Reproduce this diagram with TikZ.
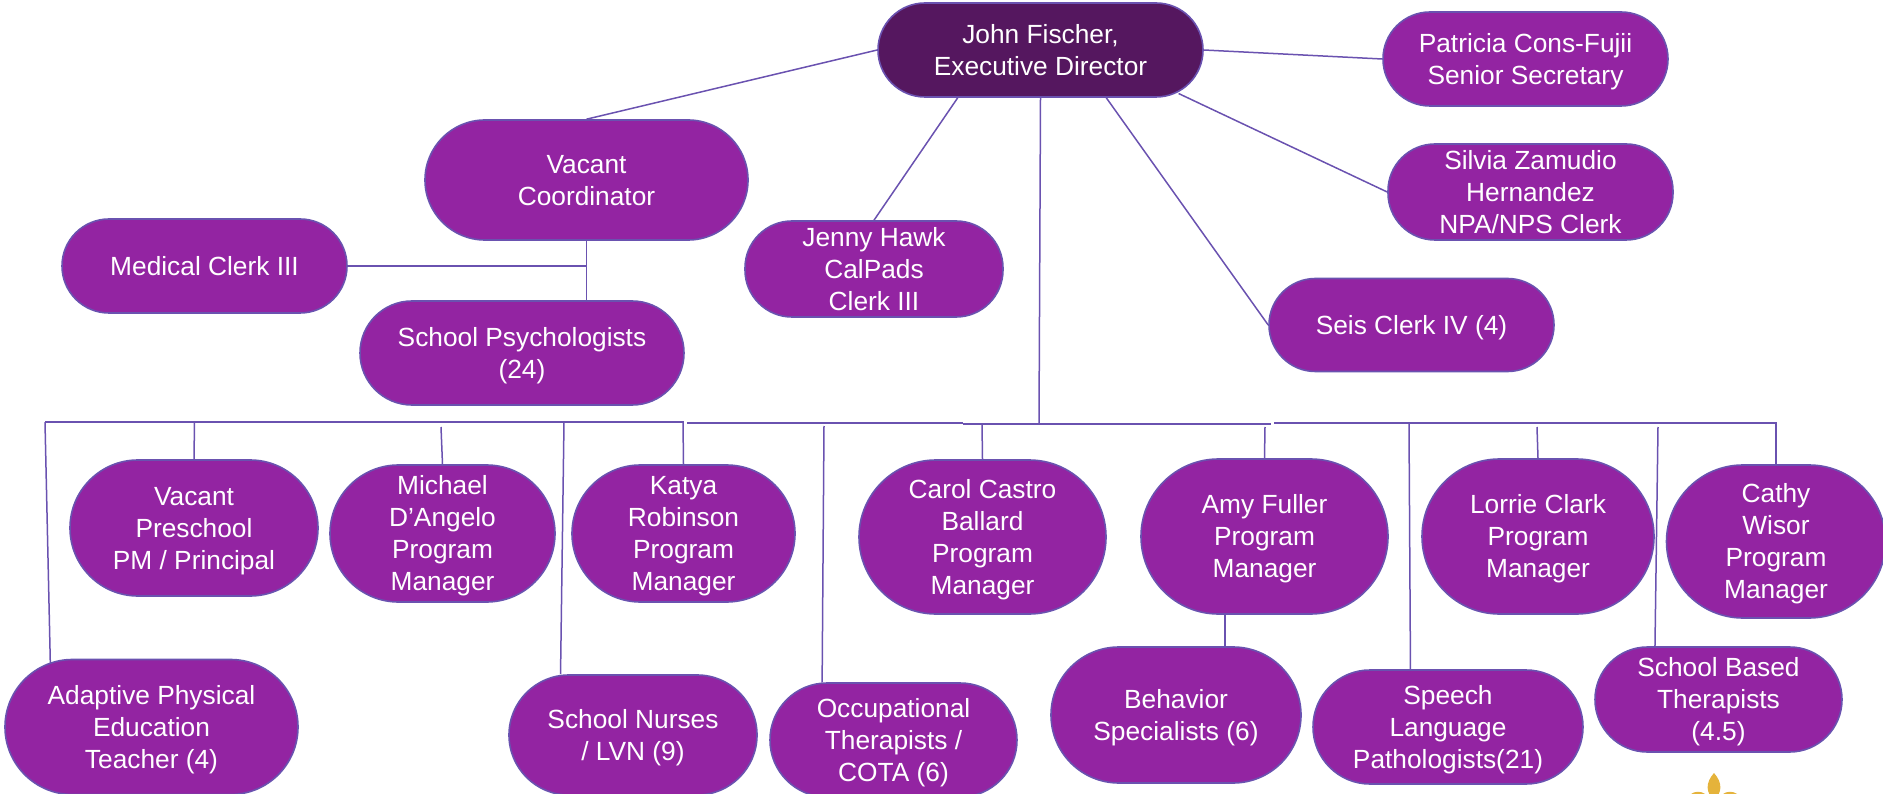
\documentclass[tikz,border=0pt]{standalone}
\usepackage{fontspec}
\setmainfont{Liberation Sans}
\usetikzlibrary{backgrounds}
\definecolor{pillfill}{HTML}{9324A2}
\definecolor{topfill}{HTML}{55175F}
\definecolor{linec}{HTML}{6A52B0}
\definecolor{goldc}{HTML}{E5B33B}
\newcommand{\pilltext}[1]{\raisebox{-3pt}[\height][\depth]{\begin{tabular}{@{}c@{}}#1\end{tabular}}}
\tikzset{
  x=1pt,y=-1pt,
  pill/.style n args={3}{draw=linec,line width=1.6pt,fill=#3,rounded corners=#2/2*1pt,
    minimum width=#1*1pt,minimum height=#2*1pt,inner sep=0pt,text=white,
    font=\fontsize{26.3}{32}\selectfont},
  conn/.style={draw=linec,line width=1.5pt},
  bus/.style={draw=linec,line width=2pt},
}
\begin{document}
\begin{tikzpicture}
\useasboundingbox (0,0) rectangle (1883,794);
\clip (0,0) rectangle (1883,794);
\node[pill={325}{94}{topfill}] (john) at (1040.5,50) {\pilltext{John Fischer,\\Executive Director}};
\node[pill={285}{94}{pillfill}] (pat) at (1525.5,59) {\pilltext{Patricia Cons-Fujii\\Senior Secretary}};
\node[pill={285}{94}{pillfill}] (sil) at (1530.5,192) {\pilltext{Silvia Zamudio\\Hernandez\\NPA/NPS Clerk}};
\node[pill={323}{120}{pillfill}] (coord) at (586.5,180) {\pilltext{Vacant\\Coordinator}};
\node[pill={285}{94}{pillfill}] (med) at (204.5,266) {\pilltext{Medical Clerk III}};
\node[pill={324}{104}{pillfill}] (psych) at (522,353) {\pilltext{School Psychologists\\(24)}};
\node[pill={258}{94}{pillfill}] (jenny) at (874,269) {\pilltext{Jenny Hawk\\CalPads\\Clerk III}};
\node[pill={285}{93}{pillfill}] (seis) at (1411.5,325) {\pilltext{Seis Clerk IV (4)}};
\node[pill={248}{136}{pillfill}] (pre) at (194,528) {\pilltext{Vacant\\Preschool\\PM / Principal}};
\node[pill={225}{137}{pillfill}] (mich) at (442.5,533.5) {\pilltext{Michael\\D’Angelo\\Program\\Manager}};
\node[pill={223}{137}{pillfill}] (katya) at (683.5,533.5) {\pilltext{Katya\\Robinson\\Program\\Manager}};
\node[pill={247}{154}{pillfill}] (carol) at (982.5,537) {\pilltext{Carol Castro\\Ballard\\Program\\Manager}};
\node[pill={247}{155}{pillfill}] (amy) at (1264.5,536.5) {\pilltext{Amy Fuller\\Program\\Manager}};
\node[pill={232}{155}{pillfill}] (lorrie) at (1538,536.5) {\pilltext{Lorrie Clark\\Program\\Manager}};
\node[pill={219}{153}{pillfill}] (cathy) at (1776,541.5) {\pilltext{Cathy\\Wisor\\Program\\Manager}};
\node[pill={293}{135}{pillfill}] (adapt) at (151.5,727) {\pilltext{Adaptive Physical\\Education\\Teacher (4)}};
\node[pill={248}{120}{pillfill}] (nurse) at (633,735) {\pilltext{School Nurses\\/ LVN (9)}};
\node[pill={247}{114}{pillfill}] (ot) at (893.5,740) {\pilltext{Occupational\\Therapists /\\COTA (6)}};
\node[pill={250}{136}{pillfill}] (behav) at (1176,715) {\pilltext{Behavior\\Specialists (6)}};
\node[pill={270}{114}{pillfill}] (speech) at (1448,727) {\pilltext{Speech\\Language\\Pathologists(21)}};
\node[pill={247}{105}{pillfill}] (based) at (1718.5,699.5) {\pilltext{School Based\\Therapists\\(4.5)}};
% named bus points
\coordinate (b1) at (45,422);
\coordinate (b2) at (684,422);
\coordinate (b3) at (687,423);
\coordinate (b4) at (963,423);
\coordinate (b5) at (963,424);
\coordinate (b6) at (1271,424);
\coordinate (b7) at (1274,423);
\coordinate (b8) at (1777,423);
\coordinate (tpre) at (194.5,422);
\coordinate (tmich) at (441,427);
\coordinate (tnurse) at (564,422);
\coordinate (tkatya) at (683,422);
\coordinate (tot) at (824,426);
\coordinate (tcarol) at (982,424);
\coordinate (tjohn) at (1039,423);
\coordinate (tamy) at (1265,427);
\coordinate (tspeech) at (1409,424);
\coordinate (tlorrie) at (1537,427);
\coordinate (tbased) at (1658,427);
\coordinate (tcathy) at (1776,423);
\coordinate (jmed) at (586.5,266);
\coordinate (jbehav) at (1225,647);
\coordinate (samy) at (1225,614);
\begin{scope}[on background layer]
\draw[conn] (john.west) -- (coord.north);
\draw[conn] (john.east) -- (pat.west);
\draw[conn,shorten <=-10pt] (john.-18.1) -- (sil.west);
\draw[conn] (john.-150.7) -- (jenny.north);
\draw[conn] (john.-36) -- (seis.west);
\draw[conn] (john.south) -- (tjohn);
\draw[conn] (coord.south) -- (psych.north -| coord.south);
\draw[conn] (med.east) -- (jmed);
\draw[bus] (b1) -- (b2);
\draw[bus] (b3) -- (b4);
\draw[bus] (b5) -- (b6);
\draw[bus] (b7) -- (b8);
\draw[conn,shorten >=-5pt] (b1) -- (adapt.146.7);
\draw[conn] (tpre) -- (pre.north);
\draw[conn] (tmich) -- (mich.north);
\draw[conn] (tnurse) -- (nurse.140.2);
\draw[conn] (tkatya) -- (katya.north);
\draw[conn] (tot) -- (ot.141.8);
\draw[conn] (tcarol) -- (carol.north);
\draw[conn] (tamy) -- (amy.north);
\draw[conn] (tspeech) -- (speech.123);
\draw[conn] (tlorrie) -- (lorrie.north);
\draw[conn] (tbased) -- (based.140);
\draw[conn] (tcathy) -- (cathy.north);
\draw[conn] (samy) -- (jbehav);
\end{scope}
% logo petals
\fill[goldc] (1714,773) .. controls (1705,783) and (1706,793) .. (1714,800) .. controls (1722,793) and (1723,783) .. (1714,773) -- cycle;
\fill[goldc] (1691,794) .. controls (1695,791) and (1701,791) .. (1705,794) -- cycle;
\fill[goldc] (1723,794) .. controls (1727,791) and (1733,791) .. (1737,794) -- cycle;
\end{tikzpicture}
\end{document}
